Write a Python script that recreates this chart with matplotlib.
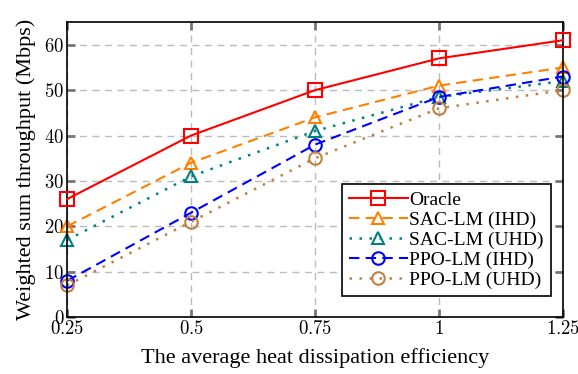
import numpy as np
import matplotlib.pyplot as plt

plt.rcParams['font.family'] = ['Liberation Serif', 'DejaVu Serif']
plt.rcParams['mathtext.fontset'] = 'cm'

eff = [0.25, 0.5, 0.75, 1.0, 1.25]
xtick_labels = ['0.25', '0.5', '0.75', '1', '1.25']
oracle = [26, 40, 50, 57, 61]
sac_ihd = [20, 34, 44, 51, 55]
sac_uhd = [17, 31, 41, 48.5, 52]
ppo_ihd = [8, 23, 38, 48.5, 53]
ppo_uhd = [7, 21, 35, 46, 50]

fig = plt.figure(figsize=(5.78, 3.74), dpi=100)
ax = fig.add_axes([0.116, 0.152, 0.858, 0.789])

common = dict(mfc='none', mew=1.5, clip_on=False)
ax.plot(eff, oracle, '-', color='red', marker='s', ms=10, lw=1.5,
        label='Oracle', zorder=5, **common)
ax.plot(eff, sac_ihd, '--', color='#ff8000', marker='^', ms=9, lw=1.5,
        dashes=(5, 3), label='SAC-LM (IHD)', **common)
ax.plot(eff, sac_uhd, color='#008080', marker='^', ms=9, lw=1.8,
        ls=(0, (1, 3)), label='SAC-LM (UHD)', **common)
ax.plot(eff, ppo_ihd, '--', color='blue', marker='o', ms=9, lw=1.5,
        dashes=(5, 3), label='PPO-LM (IHD)', **common)
ax.plot(eff, ppo_uhd, color='#bf8040', marker='o', ms=9, lw=1.8,
        ls=(0, (1, 3)), label='PPO-LM (UHD)', **common)

ax.set_xlim(0.25, 1.25)
ax.set_ylim(0, 65)
ax.set_xticks(eff)
ax.set_xticklabels(['$' + t + '$' for t in xtick_labels])
yt = [0, 10, 20, 30, 40, 50, 60]
ax.set_yticks(yt)
ax.set_yticklabels(['$%d$' % v for v in yt])
ax.tick_params(direction='in', length=6, width=2, color='#777777', top=True, right=True,
               labelsize=13.5, pad=2)
ax.grid(True, ls=(0, (5, 4)), color='#bbbbbb', lw=1.0)
for s in ax.spines.values():
    s.set_linewidth(1.2)

ax.set_xlabel('The average heat dissipation efficiency', fontsize=16, labelpad=7)
ax.set_ylabel('Weighted sum throughput (Mbps)', fontsize=16, labelpad=6)

leg = ax.legend(loc='lower right', fontsize=14, fancybox=False, framealpha=1,
                edgecolor='black', handlelength=3.0, borderpad=0.35, labelspacing=0.12,
                handletextpad=0.1, bbox_to_anchor=(0.995, 0.04))
leg.get_frame().set_linewidth(1.2)

fig.savefig('out.png', dpi=100)
